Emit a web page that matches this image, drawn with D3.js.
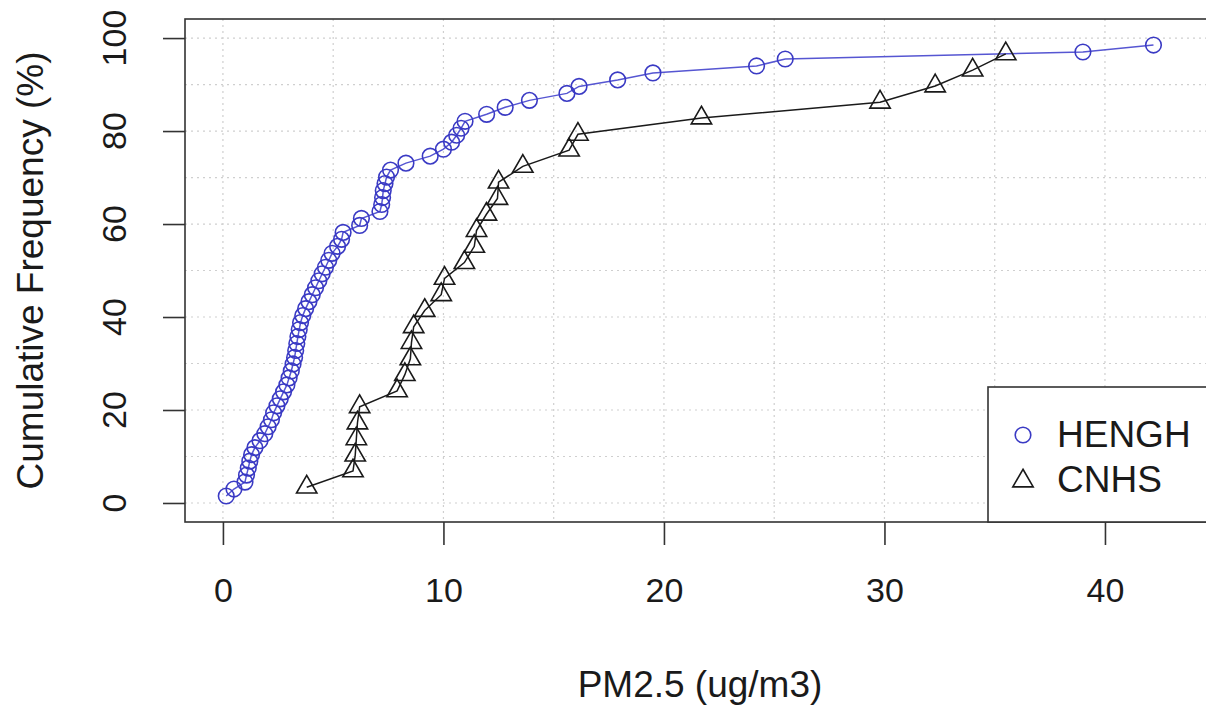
<!DOCTYPE html>
<html>
<head>
<meta charset="utf-8">
<script src="https://cdn.jsdelivr.net/npm/d3@7/dist/d3.min.js"></script>
<style>
  body { margin: 0; background: #fff; }
  svg { display: block; font-family: "Liberation Sans", Arial, Helvetica, sans-serif; }
</style>
</head>
<body>
<svg id="chart" width="1206" height="706"></svg>
<script>
// cumulative frequency of PM2.5
var henghPM = [0.15, 0.5, 1.0, 1.07, 1.15, 1.22, 1.3, 1.45, 1.68, 1.9,
  2.05, 2.2, 2.3, 2.45, 2.6, 2.75, 2.9, 3.0, 3.1, 3.18,
  3.25, 3.3, 3.35, 3.4, 3.46, 3.52, 3.62, 3.75, 3.9, 4.05,
  4.2, 4.35, 4.5, 4.65, 4.8, 4.95, 5.2, 5.38, 5.45, 6.2,
  6.28, 7.12, 7.2, 7.24, 7.27, 7.35, 7.42, 7.6, 8.3, 9.4,
  10.0, 10.37, 10.6, 10.8, 10.98, 11.96, 12.8, 13.9, 15.6, 16.15,
  17.9, 19.5, 24.2, 25.5, 39.0, 42.2];
var henghFreq = [1.5, 3.0, 4.5, 6.0, 7.5, 9.0, 10.4, 11.9, 13.4, 14.9,
  16.4, 17.9, 19.4, 20.9, 22.4, 23.9, 25.4, 26.9, 28.4, 29.9,
  31.3, 32.8, 34.3, 35.8, 37.3, 38.8, 40.3, 41.8, 43.3, 44.8,
  46.3, 47.8, 49.3, 50.7, 52.2, 53.7, 55.2, 56.7, 58.2, 59.7,
  61.2, 62.7, 64.2, 65.7, 67.2, 68.7, 70.1, 71.6, 73.1, 74.6,
  76.1, 77.6, 79.1, 80.6, 82.1, 83.6, 85.1, 86.6, 88.1, 89.6,
  91.0, 92.5, 94.0, 95.5, 97.0, 98.5];

var cnhsPM = [3.8, 5.9, 6.0, 6.05, 6.1, 6.2, 7.9, 8.25, 8.5, 8.55,
  8.65, 9.15, 9.9, 10.05, 10.95, 11.4, 11.5, 11.95, 12.45, 12.5,
  13.6, 15.7, 16.1, 21.7, 29.8, 32.3, 34.0, 35.5];
var cnhsFreq = [3.4, 6.9, 10.3, 13.8, 17.2, 20.7, 24.1, 27.6, 31.0, 34.5,
  37.9, 41.4, 44.8, 48.3, 51.7, 55.2, 58.6, 62.1, 65.5, 69.0,
  72.4, 75.9, 79.3, 82.8, 86.2, 89.7, 93.1, 96.6];

var xTicks = [0, 10, 20, 30, 40];
var yTicks = [0, 20, 40, 60, 80, 100];
var xGrid = [0, 5, 10, 15, 20, 25, 30, 35, 40, 45];
var yGrid = [0, 10, 20, 30, 40, 50, 60, 70, 80, 90, 100];
var seriesNames = ["HENGH", "CNHS"];

function drawChart() {
  var svg = d3.select("#chart");
  var pLeft = 185, pRight = 1215, pTop = 19, pBottom = 522;

  var x = d3.scaleLinear().domain([-1.72, 44.99]).range([pLeft, pRight]);
  var y = d3.scaleLinear().domain([-4.09, 104.1]).range([pBottom, pTop]);

  var blue = "#3a3ac4";
  var ink = "#1a1a1a";

  // grid
  var grid = svg.append("g").attr("stroke", "#cfcfcf").attr("stroke-width", 1.2)
    .attr("stroke-dasharray", "2,4");
  grid.selectAll("line.v").data(xGrid).enter().append("line")
    .attr("x1", function(d) { return x(d); }).attr("x2", function(d) { return x(d); })
    .attr("y1", pTop).attr("y2", pBottom);
  grid.selectAll("line.h").data(yGrid).enter().append("line")
    .attr("y1", function(d) { return y(d); }).attr("y2", function(d) { return y(d); })
    .attr("x1", pLeft).attr("x2", pRight);

  // series
  var line = d3.line()
    .x(function(d) { return x(d[0]); })
    .y(function(d) { return y(d[1]); });

  var hengh = d3.zip(henghPM, henghFreq);
  var cnhs = d3.zip(cnhsPM, cnhsFreq);

  svg.append("path").datum(hengh)
    .attr("d", line).attr("fill", "none")
    .attr("stroke", "#5656d2").attr("stroke-width", 1.5);

  svg.append("g").selectAll("circle").data(hengh).enter()
    .append("circle")
    .attr("cx", function(d) { return x(d[0]); })
    .attr("cy", function(d) { return y(d[1]); })
    .attr("r", 7.8)
    .attr("fill", "none").attr("stroke", blue).attr("stroke-width", 1.6);

  svg.append("path").datum(cnhs)
    .attr("d", line).attr("fill", "none")
    .attr("stroke", ink).attr("stroke-width", 1.5);

  var tri = d3.symbol().type(d3.symbolTriangle).size(180);
  svg.append("g").selectAll("path").data(cnhs).enter()
    .append("path")
    .attr("d", tri)
    .attr("transform", function(d) { return "translate(" + x(d[0]) + "," + y(d[1]) + ")"; })
    .attr("fill", "none").attr("stroke", ink).attr("stroke-width", 1.6);

  // box
  svg.append("rect")
    .attr("x", pLeft).attr("y", pTop)
    .attr("width", pRight - pLeft).attr("height", pBottom - pTop)
    .attr("fill", "none").attr("stroke", "#333").attr("stroke-width", 1.6);

  // axes
  var xAxis = d3.axisBottom(x).tickValues(xTicks).tickSize(23).tickPadding(33)
    .tickFormat(d3.format("d"));
  var gx = svg.append("g").attr("transform", "translate(0," + pBottom + ")").call(xAxis);
  gx.select(".domain").remove();
  gx.selectAll("line").attr("stroke", "#333").attr("stroke-width", 1.6);
  gx.selectAll("text").attr("font-size", 34).attr("fill", ink)
    .attr("font-family", "Liberation Sans, Arial, sans-serif");

  var yAxis = d3.axisLeft(y).tickValues(yTicks).tickSize(22).tickFormat("");
  var gy = svg.append("g").attr("transform", "translate(" + pLeft + ",0)").call(yAxis);
  gy.select(".domain").remove();
  gy.selectAll("line").attr("stroke", "#333").attr("stroke-width", 1.6);

  svg.append("g").selectAll("text").data(yTicks).enter()
    .append("text")
    .attr("transform", function(d) { return "translate(126," + y(d) + ") rotate(-90)"; })
    .attr("text-anchor", "middle")
    .attr("font-size", 34).attr("fill", ink)
    .text(function(d) { return d; });

  // axis titles
  svg.append("text")
    .attr("x", (pLeft + pRight) / 2).attr("y", 697)
    .attr("text-anchor", "middle").attr("font-size", 37).attr("fill", ink)
    .text("PM2.5 (ug/m3)");

  svg.append("text")
    .attr("transform", "translate(43," + (pTop + pBottom) / 2 + ") rotate(-90)")
    .attr("text-anchor", "middle").attr("font-size", 37).attr("fill", ink)
    .text("Cumulative Frequency (%)");

  // legend
  var lg = svg.append("g");
  lg.append("rect")
    .attr("x", 988).attr("y", 387).attr("width", 240).attr("height", pBottom - 387)
    .attr("fill", "#fff").attr("stroke", "#333").attr("stroke-width", 1.6);
  lg.append("circle").attr("cx", 1023).attr("cy", 435).attr("r", 7.8)
    .attr("fill", "none").attr("stroke", blue).attr("stroke-width", 1.6);
  lg.append("path").attr("d", tri).attr("transform", "translate(1023,481)")
    .attr("fill", "none").attr("stroke", ink).attr("stroke-width", 1.6);
  lg.selectAll("text").data(seriesNames).enter().append("text")
    .attr("x", 1057).attr("y", function(d, i) { return 447 + i * 45; })
    .attr("font-size", 37).attr("fill", ink)
    .text(function(d) { return d; });
}

drawChart();
</script>
</body>
</html>
